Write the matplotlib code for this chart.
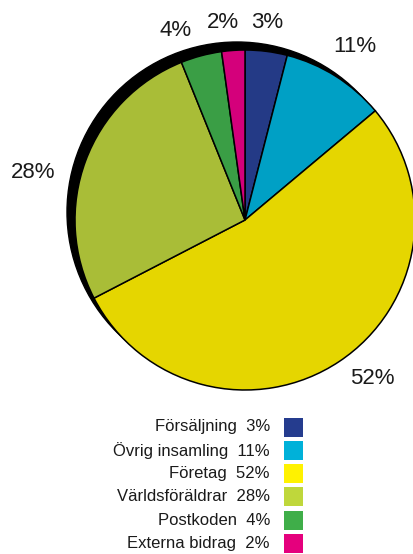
import matplotlib
matplotlib.use("Agg")
import matplotlib.pyplot as plt
from matplotlib.patches import Circle, Rectangle

# Data
kategorier = ['Försäljning', 'Övrig insamling', 'Företag', 'Världsföräldrar', 'Postkoden', 'Externa bidrag']
etiketter = ['3%', '11%', '52%', '28%', '4%', '2%']
# wedge sizes as drawn in the picture (the labels are rounded)
andelar = [4.0, 9.9, 53.5, 26.5, 3.9, 2.2]
farger_paj = ['#243a86', '#00a0c5', '#e5d600', '#a9bd37', '#3a9e45', '#d4007b']
farger_legend = ['#253c8e', '#00b1d9', '#fff200', '#bfd73b', '#3fae49', '#e5007d']

W, H = 414, 554
plt.rcParams['font.family'] = ['Liberation Sans', 'DejaVu Sans']

fig = plt.figure(figsize=(W / 100, H / 100), dpi=100)
ax = fig.add_axes([0, 0, 1, 1])

cx, cy, r = 245, H - 220, 170

# black "shadow" disc behind the pie
ax.add_patch(Circle((cx - 8, cy + 8), r, facecolor='black', edgecolor='black', zorder=1))

ax.pie(andelar, colors=farger_paj, startangle=90, counterclock=False,
       center=(cx, cy), radius=r,
       wedgeprops=dict(edgecolor='black', linewidth=1.1, zorder=2))

# percentage labels (pixel positions, top-left origin)
label_pos = [(267, 23), (355, 47), (372, 378), (33, 173), (176, 30), (223, 23)]
for txt, (x, y) in zip(etiketter, label_pos):
    ax.text(x, H - y, txt, ha='center', va='center', fontsize=16, color='#1a1a1a', zorder=5)

# legend
y0, dy = 427, 23.3
for i, (namn, pct, c) in enumerate(zip(kategorier, etiketter, farger_legend)):
    y = H - (y0 + i * dy)
    ax.text(270, y, f'{namn}  {pct}', ha='right', va='center', fontsize=12, color='#1a1a1a')
    ax.add_patch(Rectangle((284, y - 9.5), 19, 19, facecolor=c, edgecolor='none'))

ax.set_xlim(0, W)
ax.set_ylim(0, H)
ax.set_aspect('equal')
ax.axis('off')

fig.savefig('out.png', dpi=100)
